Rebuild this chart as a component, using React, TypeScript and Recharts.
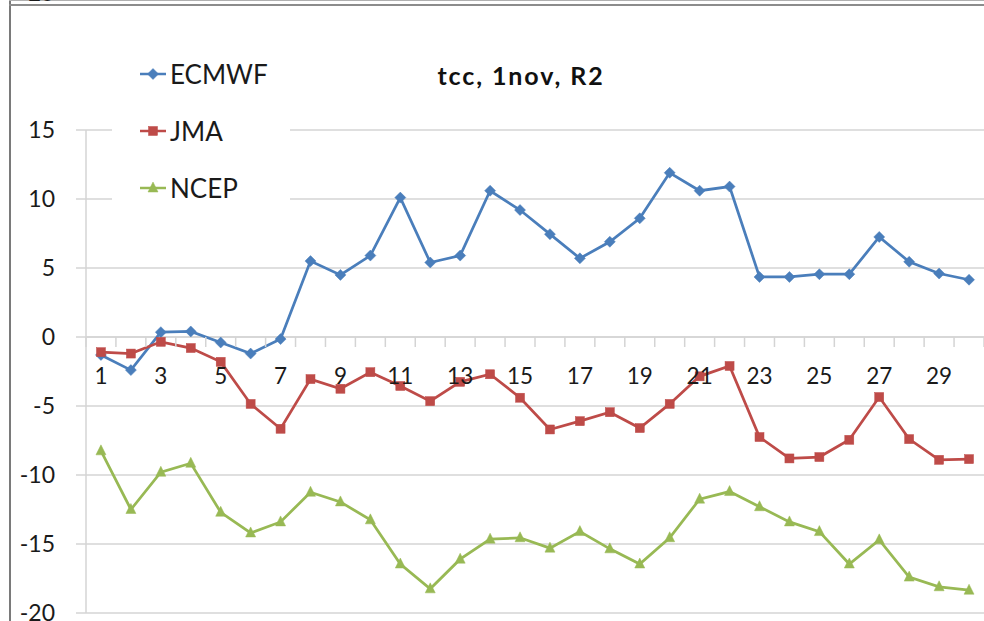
import React from "react";
import { LineChart, Line, XAxis, YAxis, CartesianGrid, ReferenceLine, Legend } from "recharts";

const days = ["1","2","3","4","5","6","7","8","9","10","11","12","13","14","15","16","17","18","19","20","21","22","23","24","25","26","27","28","29","30"];
const ecmwf = [-1.3,-2.4,0.35,0.4,-0.4,-1.2,-0.15,5.5,4.5,5.9,10.1,5.4,5.9,10.6,9.2,7.45,5.7,6.9,8.6,11.9,10.6,10.9,4.35,4.35,4.55,4.55,7.25,5.45,4.6,4.15];
const jma = [-1.1,-1.2,-0.35,-0.8,-1.8,-4.85,-6.65,-3.05,-3.75,-2.55,-3.55,-4.65,-3.25,-2.7,-4.4,-6.7,-6.1,-5.45,-6.6,-4.85,-2.85,-2.1,-7.25,-8.8,-8.7,-7.45,-4.35,-7.4,-8.9,-8.85];
const ncep = [-8.25,-12.5,-9.8,-9.15,-12.7,-14.2,-13.4,-11.25,-11.95,-13.25,-16.45,-18.25,-16.1,-14.65,-14.55,-15.3,-14.1,-15.35,-16.45,-14.55,-11.75,-11.2,-12.3,-13.4,-14.1,-16.45,-14.7,-17.4,-18.1,-18.35];
const yTicks = [-20,-15,-10,-5,0,5,10,15];
const seriesNames = ["ECMWF","JMA","NCEP"];
const title = "tcc, 1nov, R2";

const data = days.map((d, i) => ({ day: d, ECMWF: ecmwf[i], JMA: jma[i], NCEP: ncep[i] }));

const W = 984, H = 621;
const M = { top: 130, right: 0, bottom: 7, left: 0 };
const YAXIS_W = 86;
const XAXIS_H = 1;
const Y_MIN = -20, Y_MAX = 15;
const PLOT_H = H - M.top - M.bottom - XAXIS_H;
const PLOT_W = W - M.left - M.right - YAXIS_W;
const HALF = PLOT_W / days.length / 2;
const FONT = "Lato, 'Open Sans', sans-serif";
const GRID = "#d4d4d4";
const COLORS = { ECMWF: "#4a7ebb", JMA: "#be4b48", NCEP: "#98b954" };

const Diamond = ({ cx, cy, color, r = 5.5 }: any) => (
  <path d={`M${cx},${cy - r}L${cx + r},${cy}L${cx},${cy + r}L${cx - r},${cy}Z`} fill={color} stroke={color} strokeWidth={0.5} />
);
const Square = ({ cx, cy, color, s = 9 }: any) => (
  <rect x={cx - s / 2} y={cy - s / 2} width={s} height={s} fill={color} stroke={color} strokeWidth={0.5} />
);
const Triangle = ({ cx, cy, color, s = 10 }: any) => (
  <path d={`M${cx},${cy - s * 0.6}L${cx + s / 2},${cy + s * 0.4}L${cx - s / 2},${cy + s * 0.4}Z`} fill={color} stroke={color} strokeWidth={0.5} />
);
const SHAPES: any = { ECMWF: Diamond, JMA: Square, NCEP: Triangle };

const makeDot = (name: string) => (p: any) => {
  const S = SHAPES[name];
  if (p.cx == null || p.cy == null) return <g key={`${name}-${p.index}`} />;
  return <S key={`${name}-${p.index}`} cx={p.cx} cy={p.cy} color={COLORS[name as keyof typeof COLORS]} />;
};

const XTick = (props: any) => {
  const { x, payload, index } = props;
  const zeroY = M.top + ((Y_MAX - 0) / (Y_MAX - Y_MIN)) * PLOT_H;
  return (
    <g>
      <line x1={x - HALF} x2={x - HALF} y1={zeroY} y2={zeroY + 10} stroke={GRID} strokeWidth={1.5} />
      {index === days.length - 1 && (
        <line x1={x + HALF} x2={x + HALF} y1={zeroY} y2={zeroY + 10} stroke={GRID} strokeWidth={1.5} />
      )}
      {index % 2 === 0 && (
        <text x={x} y={zeroY + 47} textAnchor="middle" fontFamily={FONT} fontSize={22.5} fill="#1a1a1a">
          {payload.value}
        </text>
      )}
    </g>
  );
};

const LegendContent = () => (
  <div style={{ background: "#fff", width: "100%", height: "100%" }}>
    {seriesNames.map((n) => {
      const S = SHAPES[n];
      const c = COLORS[n as keyof typeof COLORS];
      return (
        <div key={n} style={{ height: 57, display: "flex", alignItems: "center" }}>
          <svg width={30} height={20} style={{ marginLeft: 27, marginRight: 1 }}>
            <line x1={1} x2={27} y1={10} y2={10} stroke={c} strokeWidth={2.5} />
            <S cx={14} cy={10} color={c} />
          </svg>
          <span style={{ fontFamily: FONT, fontSize: 26, color: "#1a1a1a", lineHeight: 1 }}>{n}</span>
        </div>
      );
    })}
  </div>
);

export default function App() {
  return (
    <div style={{ position: "absolute", left: 0, top: 0, width: W, height: H, background: "#fff", overflow: "hidden" }}>
      <LineChart width={W} height={H} data={data} margin={M}>
        <CartesianGrid vertical={false} stroke={GRID} strokeWidth={1.5} />
        <XAxis
          dataKey="day"
          height={XAXIS_H}
          interval={0}
          padding={{ left: HALF, right: HALF }}
          axisLine={false}
          tickLine={false}
          tick={<XTick />}
        />
        <YAxis
          width={YAXIS_W}
          domain={[Y_MIN, Y_MAX]}
          ticks={yTicks}
          interval={0}
          type="number"
          allowDataOverflow
          axisLine={{ stroke: GRID, strokeWidth: 1.5 }}
          tickLine={{ stroke: GRID, strokeWidth: 1.5 }}
          tickSize={10}
          tickMargin={21}
          tick={{ fontFamily: FONT, fontSize: 23, fill: "#1a1a1a" }}
        />
        <ReferenceLine y={0} stroke={GRID} strokeWidth={1.5} />
        {seriesNames.map((n) => (
          <Line
            key={n}
            dataKey={n}
            type="linear"
            stroke={COLORS[n as keyof typeof COLORS]}
            strokeWidth={2.75}
            dot={makeDot(n)}
            activeDot={false}
            isAnimationActive={false}
          />
        ))}
        <Legend
          layout="horizontal"
          verticalAlign="middle"
          align="center"
          content={<LegendContent />}
          wrapperStyle={{ position: "absolute", left: 112, top: 45, width: 178, height: 171 }}
        />
      </LineChart>
      <div style={{ position: "absolute", left: 390, top: 60, width: 262, textAlign: "center", fontFamily: FONT, fontWeight: 700, fontSize: 25, letterSpacing: 1.9, color: "#111", whiteSpace: "nowrap" }}>
        {title}
      </div>
      <div style={{ position: "absolute", left: 9, top: 0, width: 2, height: H, background: "#7a7a7a" }} />
      <div style={{ position: "absolute", left: 9, top: 4, width: W, height: 2, background: "#8c8c8c" }} />
      <div style={{ position: "absolute", left: 9, top: 0, width: W, height: 1, background: "#b0b0b0" }} />
      <div style={{ position: "absolute", left: 20, top: 0, width: 40, height: 4, overflow: "hidden" }}>
        <div style={{ position: "absolute", top: -18, left: 0, fontFamily: FONT, fontSize: 22, color: "#1a1a1a", lineHeight: "22px" }}>-20</div>
      </div>
    </div>
  );
}
